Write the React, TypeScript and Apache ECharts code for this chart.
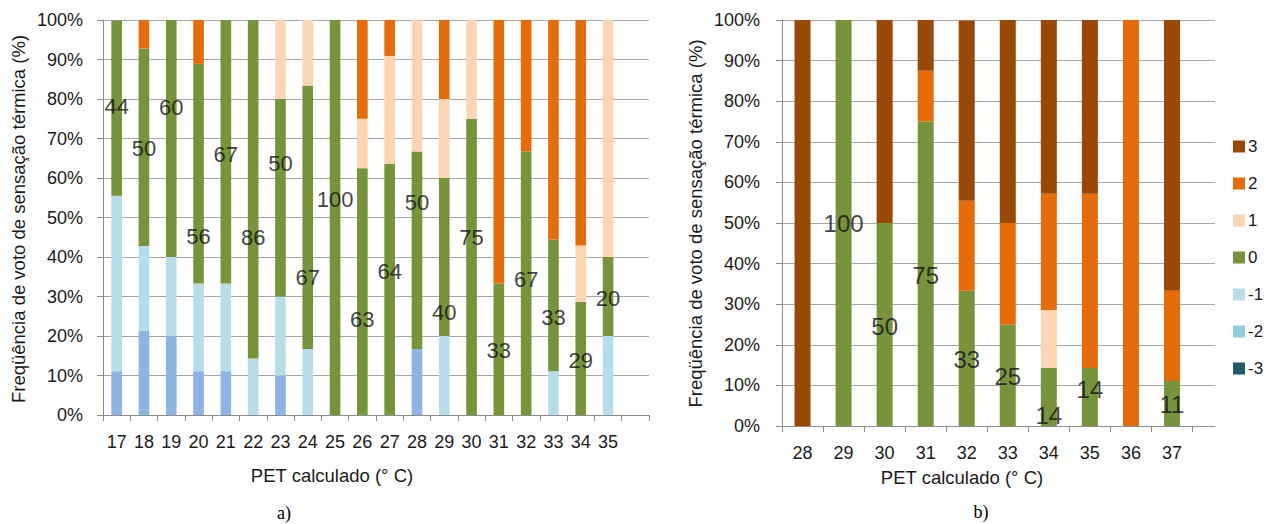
import React, { useEffect, useRef } from 'react';
import * as echarts from 'echarts';

// ---------- Chart a) ----------
const catsA = ['17', '18', '19', '20', '21', '22', '23', '24', '25', '26', '27', '28', '29', '30', '31', '32', '33', '34', '35', ''];
const m2A = [11.1, 21.4, 20, 11.1, 11.1, 0, 10, 0, 0, 0, 0, 16.7, 0, 0, 0, 0, 0, 0, 0];
const m1A = [44.4, 21.4, 20, 22.2, 22.2, 14.3, 20, 16.7, 0, 0, 0, 0, 20, 0, 0, 0, 11.1, 0, 20];
const z0A = [44.4, 50, 60, 55.6, 66.7, 85.7, 50, 66.7, 100, 62.5, 63.6, 50, 40, 75, 33.3, 66.7, 33.3, 28.6, 20];
const p1A = [0, 0, 0, 0, 0, 0, 20, 16.7, 0, 12.5, 27.3, 33.3, 20, 25, 0, 0, 0, 14.3, 60];
const p2A = [0, 7.1, 0, 11.1, 0, 0, 0, 0, 0, 25, 9.1, 0, 20, 0, 66.7, 33.3, 55.6, 57.1, 0];
// height (in %) where each "0" label sits
const labelYA = [78, 67.4, 77.8, 45.2, 66, 45, 63.6, 34.8, 54.5, 24.2, 36.4, 53.9, 26, 45, 16.4, 34.3, 24.8, 13.9, 29.6];

// ---------- Chart b) ----------
const catsB = ['28', '29', '30', '31', '32', '33', '34', '35', '36', '37'];
const p3B = [100, 0, 50, 12.5, 44.4, 50, 42.9, 42.9, 0, 66.7];
const p2B = [0, 0, 0, 12.5, 22.2, 25, 28.6, 42.9, 100, 22.2];
const p1B = [0, 0, 0, 0, 0, 0, 14.3, 0, 0, 0];
const z0B = [0, 100, 50, 75, 33.3, 25, 14.3, 14.3, 0, 11.1];
const m1B = [0, 0, 0, 0, 0, 0, 0, 0, 0, 0];
const m2B = [0, 0, 0, 0, 0, 0, 0, 0, 0, 0];
const m3B = [0, 0, 0, 0, 0, 0, 0, 0, 0, 0];
const labelYB = [null, 49.8, 24.5, 37, 16.3, 12.3, 2.7, 8.9, null, 5.2];

const yTicks = { min: 0, max: 100, interval: 10 };
const legendNames = ['3', '2', '1', '0', '-1', '-2', '-3'];

const COL = {
  m3: '#215968',
  m2b: '#93CDDD',
  m2a: '#8DB4E2',
  m1: '#B7DEE8',
  z0: '#77933C',
  p1: '#FCD5B5',
  p2: '#E46C0A',
  p3: '#984807',
};

const FONT = '"Liberation Sans", Arial, sans-serif';
const TXT = '#1a1a1a';
const GRIDC = '#a6a6a6';
const AXISC = '#8c8c8c';

export default function App() {
  const ref = useRef<HTMLDivElement>(null);

  useEffect(() => {
    document.body.style.margin = '0';
    const chart = echarts.init(ref.current!, undefined, { renderer: 'svg' });

    const valueAxisVisible = (gridIndex: number, margin: number) => ({
      type: 'value',
      gridIndex,
      ...yTicks,
      axisLine: { show: true, lineStyle: { color: AXISC } },
      axisTick: { show: true, length: 6, lineStyle: { color: AXISC } },
      splitLine: { show: true, lineStyle: { color: GRIDC, width: 1 } },
      axisLabel: { formatter: '{value}%', fontSize: 18, color: TXT, fontFamily: FONT, margin },
    });

    const barA = (name: string, data: number[], color: string) => ({
      type: 'bar',
      name,
      stack: 'A',
      xAxisIndex: 0,
      yAxisIndex: 0,
      barWidth: '39%',
      data,
      itemStyle: { color },
      emphasis: { disabled: true },
    });
    const barB = (name: string, data: number[], color: string) => ({
      type: 'bar',
      name,
      stack: 'B',
      xAxisIndex: 2,
      yAxisIndex: 2,
      barWidth: '39%',
      data,
      itemStyle: { color },
      emphasis: { disabled: true },
    });

    const labelSeries = (xi: number, yi: number, ys: (number | null)[], vals: number[], fontSize: number) => ({
      type: 'scatter',
      xAxisIndex: xi,
      yAxisIndex: yi,
      symbol: 'circle',
      symbolSize: 1,
      itemStyle: { color: 'transparent' },
      z: 10,
      data: ys
        .map((y, i) => (y === null ? null : [i, y, vals[i]]))
        .filter((d) => d !== null),
      label: {
        show: true,
        position: 'inside',
        fontSize,
        fontFamily: FONT,
        color: '#111',
        formatter: (p: any) => String(Math.round(p.value[2])),
      },
      emphasis: { disabled: true },
    });

    const titleStyle = {
      fontSize: 18.5,
      fontFamily: FONT,
      fill: TXT,
      align: 'center',
      verticalAlign: 'middle',
    };

    const option: any = {
      animation: false,
      grid: [
        { left: 103, top: 20, width: 546, height: 395 },
        { left: 782, top: 20, width: 433, height: 406 },
        { left: 782, top: 20, width: 410.5, height: 406 },
      ],
      xAxis: [
        {
          type: 'category',
          gridIndex: 0,
          data: catsA,
          boundaryGap: true,
          axisLine: { show: true, lineStyle: { color: AXISC } },
          axisTick: { show: true, length: 6, lineStyle: { color: AXISC } },
          axisLabel: { fontSize: 18, color: TXT, fontFamily: FONT, margin: 18, interval: 0 },
          splitLine: { show: false },
        },
        {
          type: 'value',
          gridIndex: 1,
          min: 0,
          max: 1,
          axisLine: { show: true, lineStyle: { color: AXISC } },
          axisTick: { show: false },
          axisLabel: { show: false },
          splitLine: { show: false },
        },
        {
          type: 'category',
          gridIndex: 2,
          data: catsB,
          boundaryGap: true,
          axisLine: { show: true, lineStyle: { color: AXISC } },
          axisTick: { show: true, length: 6, lineStyle: { color: AXISC } },
          axisLabel: { fontSize: 18, color: TXT, fontFamily: FONT, margin: 18, interval: 0 },
          splitLine: { show: false },
        },
      ],
      yAxis: [
        valueAxisVisible(0, 20),
        valueAxisVisible(1, 22),
        { type: 'value', gridIndex: 2, ...yTicks, show: false },
      ],
      legend: {
        data: legendNames,
        orient: 'vertical',
        left: 1228,
        top: 133,
        itemWidth: 12,
        itemHeight: 12,
        itemGap: 20,
        icon: 'rect',
        selectedMode: false,
        textStyle: { fontSize: 17, color: TXT, fontFamily: FONT, padding: [0, 0, 0, -2] },
      },
      series: [
        barA('a-2', m2A, COL.m2a),
        barA('a-1', m1A, COL.m1),
        barA('a0', z0A, COL.z0),
        barA('a1', p1A, COL.p1),
        barA('a2', p2A, COL.p2),
        labelSeries(0, 0, labelYA, z0A, 22),
        barB('-3', m3B, COL.m3),
        barB('-2', m2B, COL.m2b),
        barB('-1', m1B, COL.m1),
        barB('0', z0B, COL.z0),
        barB('1', p1B, COL.p1),
        barB('2', p2B, COL.p2),
        barB('3', p3B, COL.p3),
        labelSeries(2, 2, labelYB, z0B, 24),
      ],
      graphic: [
        {
          type: 'text',
          x: 18,
          y: 219,
          rotation: Math.PI / 2,
          style: { text: 'Freqüência de voto de sensação térmica (%)', ...titleStyle },
        },
        {
          type: 'text',
          x: 695.5,
          y: 223.5,
          rotation: Math.PI / 2,
          style: { text: 'Freqüência de voto de sensação térmica (%)', ...titleStyle },
        },
        {
          type: 'text',
          x: 332,
          y: 475,
          style: { text: 'PET calculado (° C)', ...titleStyle },
        },
        {
          type: 'text',
          x: 962,
          y: 477,
          style: { text: 'PET calculado (° C)', ...titleStyle },
        },
        {
          type: 'text',
          x: 284,
          y: 513,
          style: { text: 'a)', fontSize: 18, fontFamily: '"Liberation Serif", "Times New Roman", serif', fill: '#000', align: 'center', verticalAlign: 'middle' },
        },
        {
          type: 'text',
          x: 981,
          y: 512,
          style: { text: 'b)', fontSize: 18, fontFamily: '"Liberation Serif", "Times New Roman", serif', fill: '#000', align: 'center', verticalAlign: 'middle' },
        },
      ],
    };

    chart.setOption(option);
    return () => chart.dispose();
  }, []);

  return <div ref={ref} style={{ width: 1266, height: 524 }} />;
}
